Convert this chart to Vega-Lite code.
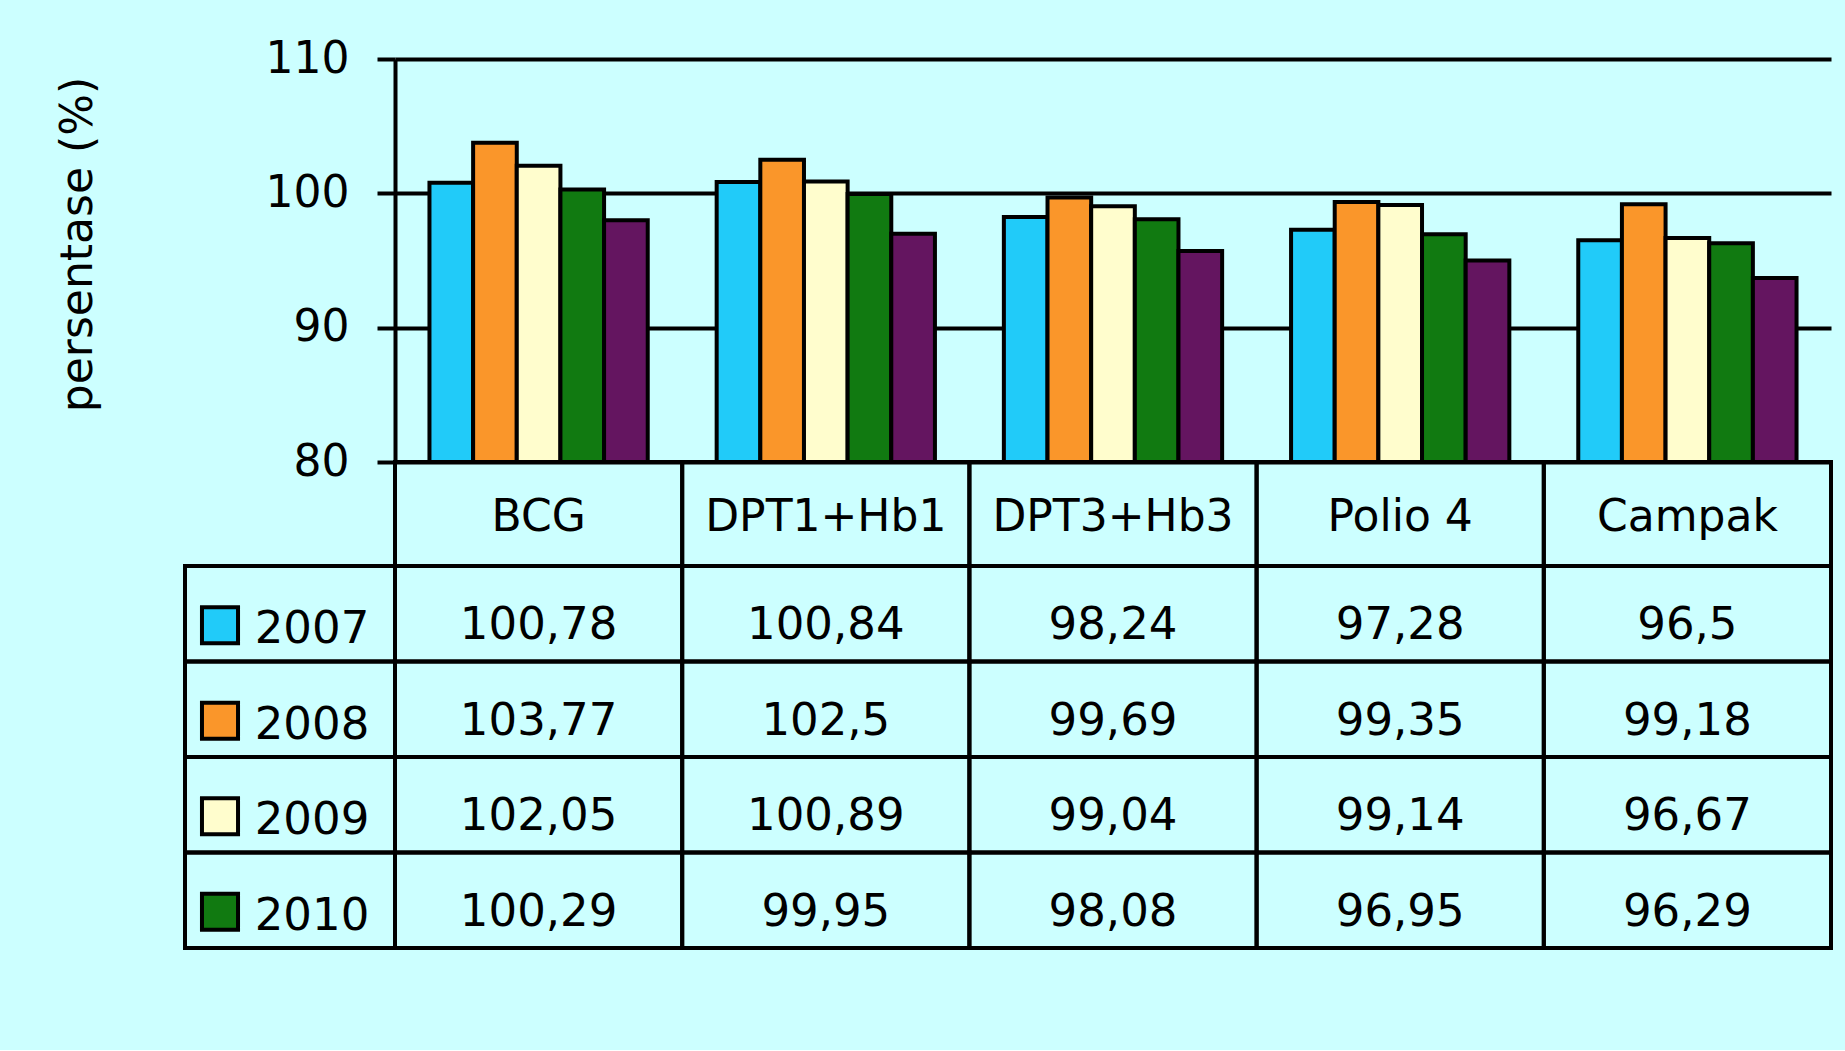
{
  "$schema": "https://vega.github.io/schema/vega-lite/v6.json",
  "background": "#CCFFFF",
  "autosize": {"type": "pad"},
  "padding": {"left": 56, "top": 37, "right": 13, "bottom": 100},
  "config": {
    "font": "DejaVu Sans",
    "view": {"stroke": null},
    "locale": {"number": {"decimal": ",", "thousands": ".", "grouping": [3], "currency": ["", ""]}}
  },
  "datasets": {
    "imun": [
      {"vaksin": "BCG", "tahun": "2007", "nilai": 100.78},
      {"vaksin": "BCG", "tahun": "2008", "nilai": 103.77},
      {"vaksin": "BCG", "tahun": "2009", "nilai": 102.05},
      {"vaksin": "BCG", "tahun": "2010", "nilai": 100.29},
      {"vaksin": "BCG", "tahun": "2011", "nilai": 98.0},
      {"vaksin": "DPT1+Hb1", "tahun": "2007", "nilai": 100.84},
      {"vaksin": "DPT1+Hb1", "tahun": "2008", "nilai": 102.5},
      {"vaksin": "DPT1+Hb1", "tahun": "2009", "nilai": 100.89},
      {"vaksin": "DPT1+Hb1", "tahun": "2010", "nilai": 99.95},
      {"vaksin": "DPT1+Hb1", "tahun": "2011", "nilai": 97.0},
      {"vaksin": "DPT3+Hb3", "tahun": "2007", "nilai": 98.24},
      {"vaksin": "DPT3+Hb3", "tahun": "2008", "nilai": 99.69},
      {"vaksin": "DPT3+Hb3", "tahun": "2009", "nilai": 99.04},
      {"vaksin": "DPT3+Hb3", "tahun": "2010", "nilai": 98.08},
      {"vaksin": "DPT3+Hb3", "tahun": "2011", "nilai": 95.7},
      {"vaksin": "Polio 4", "tahun": "2007", "nilai": 97.28},
      {"vaksin": "Polio 4", "tahun": "2008", "nilai": 99.35},
      {"vaksin": "Polio 4", "tahun": "2009", "nilai": 99.14},
      {"vaksin": "Polio 4", "tahun": "2010", "nilai": 96.95},
      {"vaksin": "Polio 4", "tahun": "2011", "nilai": 95.0},
      {"vaksin": "Campak", "tahun": "2007", "nilai": 96.5},
      {"vaksin": "Campak", "tahun": "2008", "nilai": 99.18},
      {"vaksin": "Campak", "tahun": "2009", "nilai": 96.67},
      {"vaksin": "Campak", "tahun": "2010", "nilai": 96.29},
      {"vaksin": "Campak", "tahun": "2011", "nilai": 93.7}
    ],
    "kosong": [{"k": 1}]
  },
  "columns": 2,
  "spacing": 0,
  "bounds": "flush",
  "concat": [
    {
      "width": 210, "height": 403,
      "data": {"name": "kosong"},
      "mark": {"type": "text"},
      "encoding": {"text": {"value": ""}}
    },
    {
      "width": 1436, "height": 403,
      "data": {"name": "imun"},
      "mark": {"type": "bar", "stroke": "#000000", "strokeWidth": 4, "clip": true},
      "encoding": {
        "x": {"field": "vaksin", "type": "nominal", "sort": ["BCG", "DPT1+Hb1", "DPT3+Hb3", "Polio 4", "Campak"],
              "scale": {"paddingInner": 0.24, "paddingOuter": 0.12}, "axis": null},
        "xOffset": {"field": "tahun", "type": "nominal", "scale": {"paddingInner": 0, "paddingOuter": 0}},
        "y": {"field": "nilai", "type": "quantitative",
              "scale": {"domain": [80, 110], "nice": false, "zero": false},
              "axis": {
                "title": "persentase (%)", "values": [80, 90, 100, 110],
                "grid": true, "gridColor": "#000000", "gridWidth": 4, "gridOpacity": 1,
                "domainColor": "#000000", "domainWidth": 4,
                "tickColor": "#000000", "tickWidth": 4, "tickSize": 18,
                "labelFontSize": 44, "labelColor": "#000000", "labelPadding": 28,
                "titleFontSize": 44, "titleFontWeight": "normal", "titleColor": "#000000",
                "titlePadding": 165, "titleY": 185
              }},
        "color": {"field": "tahun", "type": "nominal",
                  "scale": {"domain": ["2007", "2008", "2009", "2010", "2011"],
                            "range": ["#21CBF9", "#FA962A", "#FFFDCD", "#117A11", "#641560"]},
                  "legend": null}
      }
    },
    {
      "width": 210, "height": 104,
      "data": {"name": "kosong"},
      "mark": {"type": "text"},
      "encoding": {"text": {"value": ""}}
    },
    {
      "width": 1436, "height": 104,
      "data": {"name": "imun"},
      "transform": [{"filter": "datum.tahun == '2007'"}],
      "encoding": {
        "x": {"field": "vaksin", "type": "nominal", "sort": ["BCG", "DPT1+Hb1", "DPT3+Hb3", "Polio 4", "Campak"],
              "scale": {"paddingInner": 0, "paddingOuter": 0}, "axis": null}
      },
      "layer": [
        {"mark": {"type": "rect", "fill": "#CCFFFF", "fillOpacity": 0, "stroke": "#000000", "strokeWidth": 4}},
        {"mark": {"type": "text", "fontSize": 44, "color": "#000000", "dy": 4},
         "encoding": {"text": {"field": "vaksin"}}}
      ]
    },
    {
      "width": 210, "height": 382,
      "data": {"name": "imun"},
      "transform": [{"filter": "datum.vaksin == 'BCG' && datum.tahun != '2011'"}],
      "encoding": {
        "y": {"field": "tahun", "type": "nominal", "scale": {"paddingInner": 0, "paddingOuter": 0}, "axis": null}
      },
      "layer": [
        {"mark": {"type": "rect", "fillOpacity": 0, "fill": "#CCFFFF", "stroke": "#000000", "strokeWidth": 4}},
        {"mark": {"type": "point", "shape": "square", "filled": true, "size": 1300, "stroke": "#000000", "strokeWidth": 4, "opacity": 1},
         "encoding": {
           "x": {"datum": "swatch", "type": "nominal", "scale": {"type": "point", "domain": ["swatch", "label"], "range": [35, 127], "padding": 0}, "axis": null},
           "y": {"field": "tahun", "type": "nominal", "bandPosition": 0.62},
           "color": {"field": "tahun", "type": "nominal", "legend": null}
         }},
        {"mark": {"type": "text", "fontSize": 45, "color": "#000000"},
         "encoding": {
           "x": {"datum": "label", "type": "nominal"},
           "y": {"field": "tahun", "type": "nominal", "bandPosition": 0.66},
           "text": {"field": "tahun"}
         }}
      ]
    },
    {
      "width": 1436, "height": 382,
      "data": {"name": "imun"},
      "transform": [{"filter": "datum.tahun != '2011'"}],
      "encoding": {
        "x": {"field": "vaksin", "type": "nominal", "sort": ["BCG", "DPT1+Hb1", "DPT3+Hb3", "Polio 4", "Campak"],
              "scale": {"paddingInner": 0, "paddingOuter": 0}, "axis": null},
        "y": {"field": "tahun", "type": "nominal", "scale": {"paddingInner": 0, "paddingOuter": 0}, "axis": null}
      },
      "layer": [
        {"mark": {"type": "rect", "fillOpacity": 0, "fill": "#CCFFFF", "stroke": "#000000", "strokeWidth": 4}},
        {"mark": {"type": "text", "fontSize": 45, "color": "#000000"},
         "encoding": {
           "y": {"field": "tahun", "type": "nominal", "bandPosition": 0.62},
           "text": {"field": "nilai", "type": "quantitative", "format": ".2~f"}
         }}
      ]
    }
  ]
}
